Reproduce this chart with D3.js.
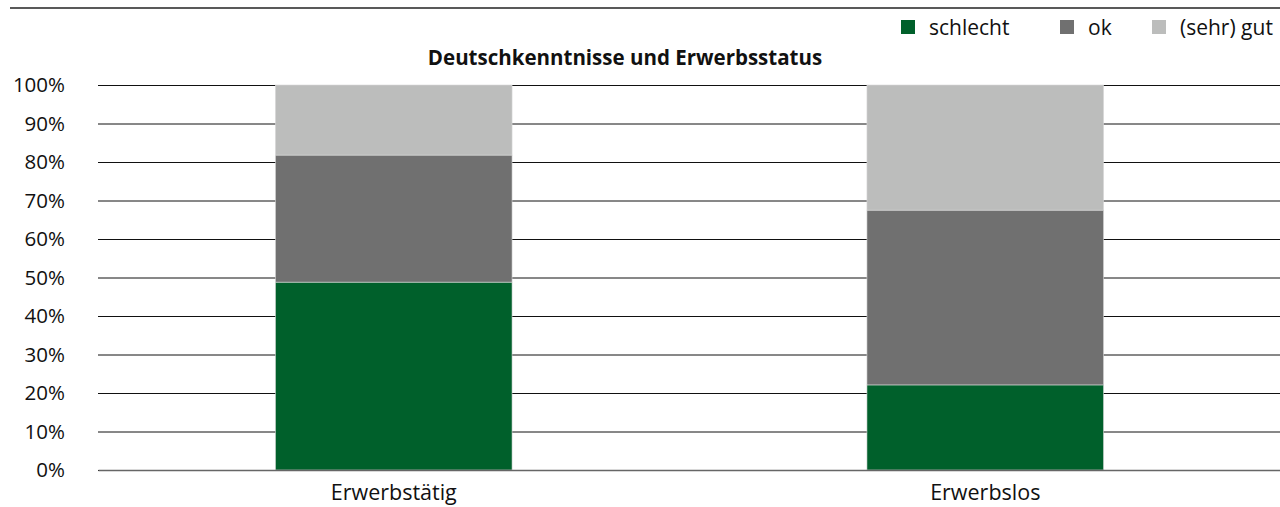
<!DOCTYPE html>
<html><head><meta charset="utf-8">
<script src="https://cdn.jsdelivr.net/npm/d3@7"></script>
<style>body{margin:0;background:#fff;} text{font-family:"Open Sans",sans-serif;fill:#111;}</style>
</head><body>
<svg id="c" width="1280" height="507"></svg>
<script>
const categories = ["Erwerbstätig", "Erwerbslos"];
const seriesNames = ["schlecht", "ok", "(sehr) gut"];
const schlecht = [48.8, 22.1];
const ok = [33.0, 45.4];
const gut = [18.2, 32.5];
const colors = ["#00602b", "#707070", "#bcbdbc"];
const yTicks = [0,10,20,30,40,50,60,70,80,90,100];
const title = "Deutschkenntnisse und Erwerbsstatus";

const svg = d3.select("#c");
const x = d3.scaleBand().domain(categories).range([98, 1281]).paddingInner(0.6).paddingOuter(0.3);
const y = d3.scaleLinear().domain([0,100]).range([470, 85]);

svg.append("line").attr("x1",10).attr("x2",1280).attr("y1",8).attr("y2",8).attr("stroke","#222").attr("stroke-width",1.5);

const yAxis = svg.append("g").attr("transform","translate(98,0)")
  .call(d3.axisLeft(y).tickValues(yTicks).tickFormat(d=>d+"%").tickSize(-1183).tickPadding(33));
yAxis.select(".domain").remove();
yAxis.selectAll("line").attr("stroke","#111").attr("stroke-width",1);
yAxis.selectAll("text").style("font-size","20.5px").style("font-family","Open Sans").attr("fill","#111");

const data = categories.map((c,i)=>({cat:c, schlecht:schlecht[i], ok:ok[i], gut:gut[i]}));
const stack = d3.stack().keys(["schlecht","ok","gut"])(data);
svg.append("g").selectAll("g").data(stack).join("g").attr("fill",(d,i)=>colors[i])
  .selectAll("rect").data(d=>d).join("rect")
  .attr("x",d=>x(d.data.cat)).attr("width",x.bandwidth())
  .attr("y",d=>y(d[1])).attr("height",d=>y(d[0])-y(d[1]))
  .attr("stroke","#d8d8d8").attr("stroke-width",0.6);

const xAxis = svg.append("g").attr("transform","translate(0,470)")
  .call(d3.axisBottom(x).tickSize(0).tickPadding(15));
xAxis.select(".domain").attr("stroke","#666").attr("stroke-width",1.5);
xAxis.selectAll("text").style("font-size","21.5px").style("font-family","Open Sans").attr("fill","#111");

svg.append("text").attr("x",625).attr("y",65).attr("text-anchor","middle")
  .style("font-size","20.5px").style("font-weight","bold").text(title);

const legX = [901, 1060, 1152];
seriesNames.forEach((n,i)=>{
  svg.append("rect").attr("x",legX[i]).attr("y",20).attr("width",14).attr("height",14).attr("fill",colors[i]);
  svg.append("text").attr("x",legX[i]+28).attr("y",35).style("font-size","21px").text(n);
});
</script>
</body></html>
